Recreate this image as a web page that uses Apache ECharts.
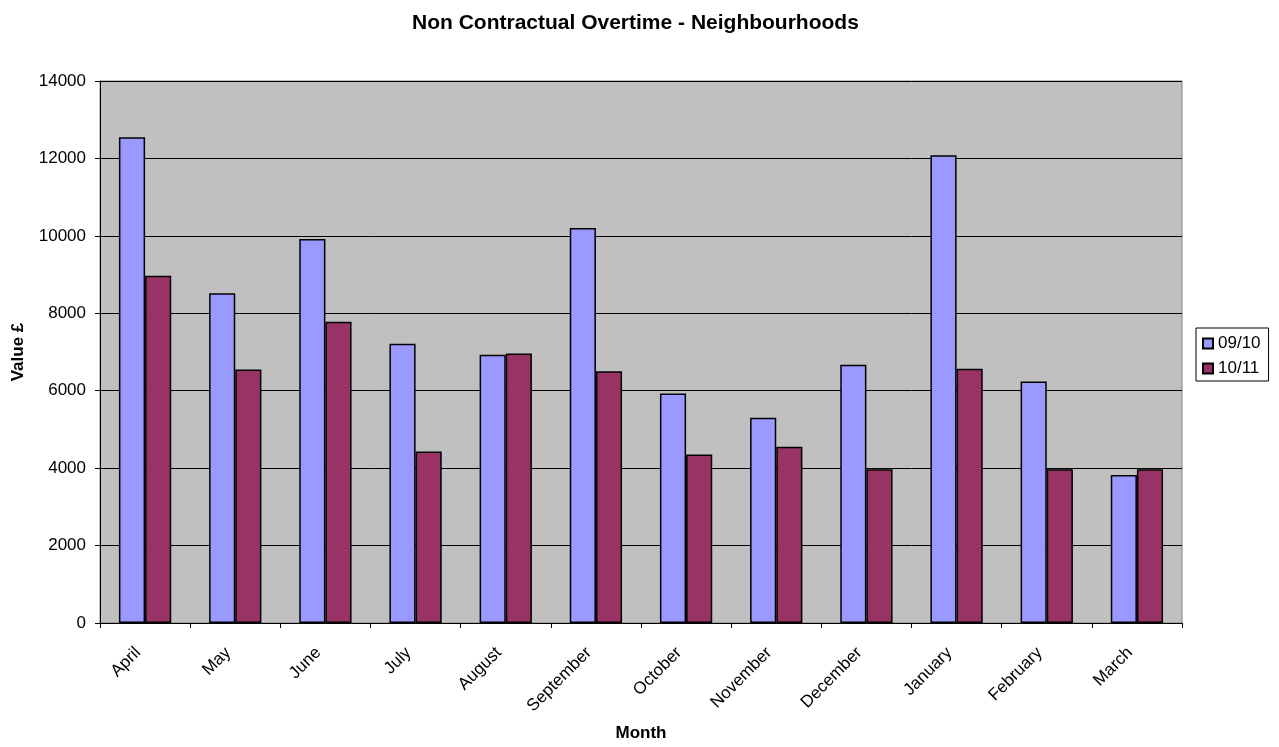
<!DOCTYPE html>
<html>
<head>
<meta charset="utf-8">
<script src="https://cdn.jsdelivr.net/npm/echarts@6/dist/echarts.min.js"></script>
<style>
html,body{margin:0;padding:0;background:#fff;overflow:hidden;}
#chart{width:1279px;height:747px;}
</style>
</head>
<body>
<div id="chart"></div>
<script>
const months = ['April','May','June','July','August','September','October','November','December','January','February','March'];
const seriesNames = ['09/10','10/11'];
const values0910 = [12550, 8520, 9920, 7210, 6930, 10200, 5930, 5300, 6670, 12080, 6240, 3820];
const values1011 = [8970, 6550, 7780, 4430, 6960, 6500, 4350, 4550, 3970, 6570, 3970, 3970];
const yMin = 0, yMax = 14000, yStep = 2000;

const FONT = '"Liberation Sans", Arial, sans-serif';
const chart = echarts.init(document.getElementById('chart'));
chart.setOption({
  animation: false,
  backgroundColor: '#ffffff',
  textStyle: { fontFamily: FONT, color: '#000' },
  title: {
    text: 'Non Contractual Overtime - Neighbourhoods',
    left: 407, top: 8,
    textStyle: { fontFamily: FONT, fontSize: 21, fontWeight: 'bold', color: '#000' }
  },
  legend: {
    orient: 'vertical',
    left: 1196, top: 328,
    padding: [7, 8, 4, 6],
    itemGap: 8,
    itemWidth: 10, itemHeight: 10,
    borderColor: '#000', borderWidth: 1,
    backgroundColor: '#fff',
    icon: 'rect',
    textStyle: { fontFamily: FONT, fontSize: 17, color: '#000' },
    data: seriesNames
  },
  grid: {
    left: 100, right: 97, top: 81, bottom: 120,
    show: true, backgroundColor: '#c0c0c0', borderColor: '#808080', borderWidth: 1
  },
  xAxis: {
    type: 'category',
    data: months,
    name: 'Month',
    nameLocation: 'middle',
    nameGap: 102,
    nameTextStyle: { fontFamily: FONT, fontSize: 17, fontWeight: 'bold', color: '#000' },
    axisLine: { lineStyle: { color: '#000', width: 1 } },
    axisTick: { show: true, length: 5, lineStyle: { color: '#000' } },
    axisLabel: { rotate: 45, margin: 20, padding: [0, 10, 0, 0], fontFamily: FONT, fontSize: 17, color: '#000', interval: 0 }
  },
  yAxis: {
    type: 'value',
    min: yMin, max: yMax, interval: yStep,
    name: 'Value £',
    nameLocation: 'middle',
    nameGap: 73,
    nameRotate: 90,
    nameTextStyle: { fontFamily: FONT, fontSize: 17, fontWeight: 'bold', color: '#000' },
    axisLine: { show: true, lineStyle: { color: '#000', width: 1 } },
    axisTick: { show: true, length: 5, lineStyle: { color: '#000' } },
    axisLabel: { margin: 14, fontFamily: FONT, fontSize: 17, color: '#000', formatter: v => String(v) },
    splitLine: { show: true, lineStyle: { color: '#000', width: 1 } }
  },
  series: [
    {
      name: seriesNames[0], type: 'bar', data: values0910,
      barGap: '0%', barCategoryGap: '42%',
      itemStyle: { color: '#9999ff', borderColor: '#000', borderWidth: 1.5 }
    },
    {
      name: seriesNames[1], type: 'bar', data: values1011,
      barGap: '0%', barCategoryGap: '42%',
      itemStyle: { color: '#993366', borderColor: '#000', borderWidth: 1.5 }
    }
  ]
});
</script>
</body>
</html>
